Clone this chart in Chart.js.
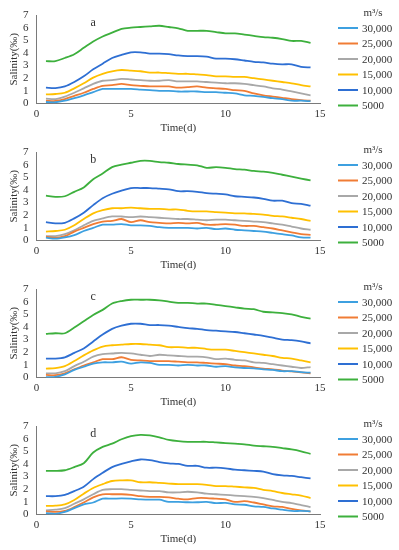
<!DOCTYPE html>
<html>
<head>
<meta charset="utf-8">
<title>Salinity vs time</title>
<script src="https://cdn.jsdelivr.net/npm/chart.js"></script>
<style>
  body { margin: 0; background: #fff; }
  .panel { position: relative; width: 399px; height: 137px; }
</style>
</head>
<body>
<div class="panel"><canvas id="chartA"></canvas></div>
<div class="panel"><canvas id="chartB"></canvas></div>
<div class="panel"><canvas id="chartC"></canvas></div>
<div class="panel"><canvas id="chartD"></canvas></div>
<script>
const days = [0.5,1,1.5,2,2.5,3,3.5,4,4.5,5,5.5,6,6.5,7,7.5,8,8.5,9,9.5,10,10.5,11,11.5,12,12.5,13,13.5,14,14.5];
const flowLabels = ['30,000','25,000','20,000','15,000','10,000','5000'];
const flowColors = ['#3da0e0','#f07c35','#a8a8a8','#ffc000','#2e6fd3','#3db03d'];
const panelLetters = ['a','b','c','d'];
const yTicks = [0,1,2,3,4,5,6,7];
const xTicks = [0,5,10,15];

// panel a
const a30000 = [0.12,0.1,0.22,0.42,0.65,0.9,1.15,1.15,1.15,1.15,1.1,1.05,1.0,1.0,0.95,0.95,0.95,0.9,0.9,0.85,0.8,0.65,0.6,0.52,0.42,0.35,0.22,0.22,0.18];
const a25000 = [0.22,0.2,0.35,0.6,0.85,1.15,1.4,1.45,1.55,1.45,1.4,1.35,1.35,1.35,1.25,1.3,1.35,1.25,1.2,1.15,1.05,1.0,0.8,0.65,0.55,0.45,0.35,0.27,0.22];
const a20000 = [0.38,0.35,0.55,0.85,1.2,1.55,1.8,1.85,1.95,1.9,1.85,1.8,1.8,1.85,1.75,1.75,1.75,1.7,1.65,1.6,1.6,1.55,1.45,1.35,1.2,1.1,0.95,0.8,0.65];
const a15000 = [0.72,0.75,0.85,1.2,1.6,2.05,2.35,2.55,2.65,2.6,2.55,2.45,2.45,2.4,2.35,2.35,2.3,2.25,2.15,2.15,2.1,2.1,2.0,1.9,1.8,1.7,1.6,1.45,1.35];
const a10000 = [1.25,1.22,1.35,1.7,2.15,2.7,3.15,3.6,3.85,4.05,4.05,3.95,3.95,3.9,3.8,3.75,3.75,3.7,3.55,3.55,3.5,3.4,3.3,3.25,3.15,3.1,3.1,2.9,2.85];
const a5000  = [3.35,3.35,3.6,3.9,4.4,4.9,5.3,5.6,5.9,6.0,6.05,6.1,6.15,6.05,5.95,5.75,5.75,5.75,5.65,5.55,5.55,5.45,5.35,5.25,5.2,5.1,4.95,4.95,4.8];

// panel b
const b30000 = [0.22,0.15,0.25,0.43,0.75,1.0,1.25,1.25,1.3,1.2,1.2,1.15,1.05,1.0,1.0,1.0,0.95,1.0,0.9,0.95,0.85,0.8,0.75,0.7,0.6,0.5,0.4,0.25,0.22];
const b25000 = [0.3,0.2,0.35,0.7,1.0,1.3,1.5,1.55,1.7,1.45,1.6,1.45,1.4,1.35,1.4,1.35,1.4,1.25,1.25,1.3,1.25,1.15,1.15,1.05,0.95,0.8,0.65,0.5,0.45];
const b20000 = [0.35,0.35,0.5,0.8,1.2,1.55,1.75,1.9,1.9,1.85,1.9,1.85,1.8,1.75,1.7,1.7,1.65,1.6,1.65,1.65,1.6,1.55,1.5,1.45,1.35,1.25,1.1,0.95,0.85];
const b15000 = [0.7,0.75,0.85,1.2,1.7,2.15,2.4,2.55,2.55,2.6,2.55,2.5,2.5,2.45,2.45,2.35,2.3,2.3,2.25,2.2,2.15,2.15,2.1,2.05,1.95,1.9,1.8,1.7,1.55];
const b10000 = [1.45,1.35,1.4,1.75,2.2,2.8,3.35,3.7,3.95,4.15,4.15,4.15,4.1,4.05,3.9,3.9,3.85,3.75,3.7,3.65,3.5,3.45,3.4,3.3,3.15,3.15,2.95,2.9,2.75];
const b5000  = [3.55,3.45,3.5,3.85,4.2,4.85,5.3,5.8,6.0,6.15,6.3,6.3,6.2,6.15,6.05,6.0,5.95,5.75,5.8,5.75,5.65,5.6,5.5,5.45,5.35,5.2,5.05,4.9,4.75];

// panel c
const c30000 = [0.03,0.05,0.25,0.6,0.85,1.1,1.2,1.2,1.25,1.1,1.2,1.15,1.0,1.0,0.95,1.0,0.95,0.95,0.85,0.9,0.8,0.75,0.72,0.65,0.6,0.5,0.5,0.42,0.38];
const c25000 = [0.2,0.18,0.33,0.65,0.95,1.2,1.45,1.45,1.6,1.4,1.35,1.3,1.3,1.3,1.25,1.2,1.2,1.15,1.1,1.05,0.95,0.9,0.8,0.7,0.65,0.55,0.48,0.4,0.33];
const c20000 = [0.33,0.33,0.5,0.9,1.25,1.65,1.85,1.9,1.95,1.9,1.8,1.7,1.8,1.75,1.7,1.65,1.65,1.6,1.45,1.5,1.4,1.35,1.2,1.15,1.05,0.95,0.85,0.75,0.82];
const c15000 = [0.7,0.75,0.9,1.3,1.75,2.15,2.45,2.55,2.6,2.65,2.65,2.6,2.55,2.4,2.4,2.35,2.35,2.25,2.2,2.2,2.1,2.0,1.9,1.8,1.7,1.55,1.5,1.35,1.2];
const c10000 = [1.5,1.5,1.6,1.95,2.3,2.85,3.4,3.85,4.1,4.25,4.25,4.15,4.15,4.1,4.0,3.9,3.85,3.75,3.7,3.65,3.6,3.5,3.4,3.3,3.15,3.0,2.95,2.85,2.7];
const c5000  = [3.45,3.5,3.5,3.95,4.45,4.95,5.35,5.85,6.05,6.15,6.15,6.15,6.1,6.0,5.9,5.9,5.85,5.85,5.75,5.65,5.55,5.45,5.4,5.2,5.15,5.1,5.0,4.8,4.65];

// panel d
const d30000 = [0.1,0.05,0.2,0.5,0.8,0.95,1.25,1.25,1.27,1.25,1.2,1.17,1.17,1.0,1.0,0.97,0.97,1.0,0.9,0.92,0.8,0.77,0.65,0.6,0.48,0.38,0.28,0.28,0.25];
const d25000 = [0.25,0.2,0.28,0.58,0.95,1.35,1.6,1.6,1.6,1.55,1.45,1.4,1.4,1.35,1.25,1.2,1.3,1.3,1.25,1.2,1.0,1.05,0.95,0.8,0.65,0.6,0.45,0.33,0.23];
const d20000 = [0.33,0.38,0.5,0.85,1.2,1.6,1.95,2.0,2.0,1.95,1.9,1.85,1.85,1.75,1.75,1.8,1.75,1.65,1.6,1.55,1.5,1.45,1.4,1.3,1.15,1.0,0.9,0.75,0.58];
const d15000 = [0.68,0.7,0.8,1.15,1.65,2.1,2.4,2.65,2.7,2.7,2.55,2.55,2.5,2.45,2.4,2.4,2.4,2.35,2.25,2.25,2.2,2.15,2.1,1.95,1.85,1.7,1.6,1.5,1.3];
const d10000 = [1.45,1.45,1.55,1.85,2.2,2.8,3.3,3.75,4.0,4.2,4.35,4.3,4.15,4.05,4.0,3.85,3.85,3.7,3.7,3.65,3.55,3.5,3.45,3.4,3.2,3.1,3.05,2.95,2.85];
const d5000  = [3.45,3.45,3.5,3.75,4.05,4.9,5.35,5.6,5.95,6.2,6.3,6.25,6.1,5.9,5.8,5.75,5.75,5.75,5.7,5.65,5.6,5.55,5.45,5.4,5.35,5.25,5.15,5.0,4.8];

const panels = [
  [a30000, a25000, a20000, a15000, a10000, a5000],
  [b30000, b25000, b20000, b15000, b10000, b5000],
  [c30000, c25000, c20000, c15000, c10000, c5000],
  [d30000, d25000, d20000, d15000, d10000, d5000]
];

const FONT = 'Liberation Serif, Times New Roman, serif';
const TEXT = '#333';

// legend drawn on the right, beside the plot area
const sideLegend = {
  id: 'sideLegend',
  afterDraw(chart) {
    const ctx = chart.ctx;
    const top = chart.chartArea.top;
    ctx.save();
    ctx.fillStyle = TEXT;
    ctx.font = '11px ' + FONT;
    ctx.textAlign = 'center';
    ctx.textBaseline = 'middle';
    ctx.fillText('m\u00b3/s', 373, top - 2);
    ctx.textAlign = 'left';
    chart.data.datasets.forEach((ds, i) => {
      const y = top + 13 + i * 15.5;
      ctx.strokeStyle = ds.borderColor;
      ctx.lineWidth = 2;
      ctx.beginPath();
      ctx.moveTo(338, y);
      ctx.lineTo(358, y);
      ctx.stroke();
      ctx.fillText(ds.label, 362, y + 1);
    });
    ctx.restore();
  }
};

// panel letter, placed through the scales
const panelLetter = {
  id: 'panelLetter',
  afterDraw(chart, args, opts) {
    const ctx = chart.ctx;
    ctx.save();
    ctx.fillStyle = TEXT;
    ctx.font = '12px ' + FONT;
    ctx.textAlign = 'center';
    ctx.textBaseline = 'middle';
    ctx.fillText(opts.text, chart.scales.x.getPixelForValue(3), chart.scales.y.getPixelForValue(6.4));
    ctx.restore();
  }
};

function drawPanel(canvasId, series, letter) {
  const ctx = document.getElementById(canvasId).getContext('2d');
  return new Chart(ctx, {
    type: 'line',
    data: {
      labels: days,
      datasets: series.map((vals, i) => ({
        label: flowLabels[i],
        data: vals.map((v, j) => ({ x: days[j], y: v })),
        borderColor: flowColors[i],
        backgroundColor: flowColors[i],
        borderWidth: 1.8,
        pointRadius: 0,
        tension: 0.3,
        fill: false
      }))
    },
    options: {
      responsive: true,
      maintainAspectRatio: false,
      animation: false,
      layout: { padding: { left: 0, right: 79, top: 15, bottom: 3.5 } },
      plugins: {
        legend: { display: false },
        tooltip: { enabled: false },
        panelLetter: { text: letter }
      },
      scales: {
        x: {
          type: 'linear',
          min: 0,
          max: 15,
          afterBuildTicks: (axis) => { axis.ticks = xTicks.map(v => ({ value: v })); },
          grid: { display: false, drawTicks: false },
          border: { display: true, color: '#7a7a7a', width: 1 },
          ticks: { autoSkip: false, maxRotation: 0, color: TEXT, padding: 5, font: { family: FONT, size: 11, lineHeight: 1 } },
          title: { display: true, text: 'Time(d)', color: TEXT, padding: { top: -2, bottom: 0 }, font: { family: FONT, size: 11, lineHeight: 1 } }
        },
        y: {
          min: 0,
          max: 7,
          afterBuildTicks: (axis) => { axis.ticks = yTicks.map(v => ({ value: v })); },
          grid: { display: false, drawTicks: false },
          border: { display: true, color: '#7a7a7a', width: 1 },
          ticks: { autoSkip: false, color: TEXT, padding: 8, font: { family: FONT, size: 11, lineHeight: 1 } },
          title: { display: true, text: 'Salinity(\u2030)', color: TEXT, padding: { top: 9, bottom: -5 }, font: { family: FONT, size: 11, lineHeight: 1 } }
        }
      }
    },
    plugins: [sideLegend, panelLetter]
  });
}

['chartA','chartB','chartC','chartD'].forEach((id, k) => drawPanel(id, panels[k], panelLetters[k]));
</script>
</body>
</html>
